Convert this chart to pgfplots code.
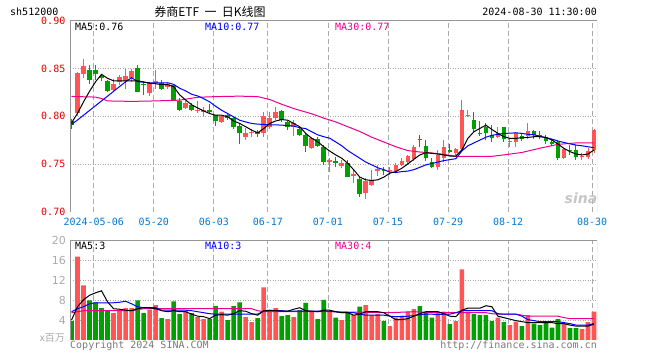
\documentclass[border=0pt]{standalone}
\usepackage{fontspec}
\usepackage{pgfplots}
\usepackage{pgfplotstable}
\pgfplotsset{compat=1.18}
\setmainfont{DejaVu Sans Mono}
\newfontfamily\cjk{Noto Sans CJK SC}
\newfontfamily\dvs{DejaVu Sans}
\definecolor{upred}{RGB}{255,85,85}
\definecolor{dngreen}{RGB}{0,160,0}
\definecolor{pricered}{RGB}{230,0,0}
\definecolor{datablue}{RGB}{0,120,215}
\definecolor{gridgray}{RGB}{170,170,170}
\definecolor{bordgray}{RGB}{150,150,150}
\definecolor{txtgray}{RGB}{120,120,120}
\newcommand\mf{\fontsize{10bp}{12bp}\selectfont}

\pgfplotstableread{
i o h l c v
1 .803 .846 .800 .845 16.8
2 .844 .860 .840 .853 11.0
7 .8276 .839 .8265 .8334 5.4
8 .8355 .843 .833 .8407 5.9
9 .837 .849 .829 .8424 6.4
10 .8397 .849 .836 .8472 6.4
13 .824 .836 .8207 .8345 6.1
14 .8345 .848 .829 .837 7.0
16 .831 .836 .829 .8334 4.2
19 .8086 .8155 .8079 .8138 5.8
21 .8059 .8155 .8034 .8069 4.6
22 .8045 .810 .800 .806 4.2
25 .7941 .8007 .7924 .8007 5.7
29 .7785 .7872 .775 .7826 4.6
30 .7820 .7861 .7785 .7830 3.6
32 .782 .8045 .7785 .800 10.6
33 .7889 .8045 .787 .7976 5.9
34 .7976 .8097 .7965 .8045 6.4
37 .7889 .7958 .7792 .793 4.6
40 .7664 .7785 .7654 .7774 5.8
43 .7525 .756 .742 .7542 5.8
45 .7479 .7542 .7455 .7514 4.0
47 .7378 .7438 .730 .7390 5.0
49 .7201 .735 .7132 .7326 7.0
50 .7282 .7438 .7271 .7333 5.0
51 .7431 .749 .7375 .7445 5.2
53 .743 .7472 .7386 .7441 2.8
54 .743 .7514 .7415 .749 4.5
55 .749 .7559 .748 .7535 4.9
56 .7525 .7594 .7503 .7584 5.7
57 .7549 .7698 .7535 .768 6.2
61 .7466 .7646 .7438 .7594 5.7
62 .7559 .775 .752 .768 5.7
64 .7618 .7664 .7594 .7653 3.8
65 .7653 .8174 .763 .8062 14.2
66 .8000 .8062 .7993 .8012 5.7
71 .7785 .7882 .7768 .7826 4.5
73 .7729 .7768 .7681 .7739 3.0
74 .7733 .7837 .7681 .782 3.7
76 .7792 .7924 .7764 .7844 5.0
82 .7563 .7667 .7556 .7653 3.2
85 .7573 .761 .7542 .7583 2.2
86 .7576 .7664 .7556 .7636 3.6
87 .7646 .7868 .7618 .7854 5.7
}\up

\pgfplotstableread{
i o h l c v
0 .795 .797 .787 .791 3.8
3 .848 .854 .834 .838 8.0
4 .848 .854 .838 .844 7.6
5 .842 .844 .837 .840 6.4
6 .837 .838 .825 .8265 5.9
11 .8507 .854 .825 .8258 8.0
12 .834 .8355 .8224 .833 5.4
15 .8345 .838 .8276 .829 4.4
17 .8327 .834 .8170 .8172 7.8
18 .8162 .819 .805 .8069 5.2
20 .812 .8138 .805 .806 5.4
23 .807 .8125 .8035 .8045 4.2
24 .801 .801 .7896 .795 6.8
26 .801 .802 .7965 .7986 4.0
27 .7986 .7993 .787 .7882 6.8
28 .7896 .7924 .7708 .782 7.6
31 .7830 .7860 .7785 .7818 4.4
35 .8055 .8062 .794 .7958 4.8
36 .794 .795 .7851 .7889 5.0
38 .7861 .789 .7795 .7802 6.0
39 .7802 .782 .7629 .7688 7.5
41 .7757 .7785 .7680 .7688 4.2
42 .768 .7698 .749 .7525 8.1
44 .7535 .7576 .747 .7508 4.5
46 .7514 .7542 .736 .7368 5.5
48 .734 .736 .7153 .7187 6.7
52 .7441 .7468 .7386 .7430 3.8
58 .7757 .7802 .768 .7747 6.8
59 .7688 .7747 .7535 .7559 5.5
60 .7525 .7559 .7455 .7466 4.5
63 .7642 .7705 .7618 .7628 3.2
67 .7965 .804 .7826 .7861 5.2
68 .7823 .7945 .7792 .7813 5.0
69 .7882 .7924 .7747 .782 5.0
70 .7802 .7907 .7733 .7768 3.8
72 .7882 .7889 .7733 .7757 3.6
75 .7792 .7813 .7744 .7757 2.8
77 .7844 .7854 .7764 .7799 3.3
78 .7802 .7847 .7764 .7785 3.0
79 .7785 .7802 .7705 .7743 3.8
80 .7729 .7757 .7688 .7705 2.5
81 .7733 .775 .7542 .7559 4.2
83 .7646 .7698 .7594 .7636 2.4
84 .7646 .7698 .7542 .7576 2.4
}\down

\pgfplotstableread{
i m5 m10
0 .793 .7914
1 .803 .796
2 .815 .801
3 .826 .806
4 .836 .811
5 .8438 .816
6 .8397 .821
7 .837 .826
8 .837 .831
9 .837 .836
10 .837 .8403
11 .837 .8362
12 .836 .8355
13 .8345 .835
14 .834 .835
15 .833 .835
16 .833 .835
17 .831 .8334
18 .8224 .8293
19 .817 .8265
20 .812 .823
21 .8086 .8212
22 .8055 .8184
23 .8028 .815
24 .801 .8104
25 .801 .8062
26 .7993 .8028
27 .795 .7993
28 .7924 .7958
29 .789 .794
30 .7854 .7924
31 .7826 .7917
32 .787 .7913
33 .7924 .791
34 .795 .791
35 .7965 .7906
36 .7958 .7903
37 .7924 .7896
38 .789 .788
39 .782 .787
40 .7768 .7837
41 .7733 .7805
42 .768 .7785
43 .7635 .777
44 .7594 .773
45 .756 .769
46 .7507 .764
47 .7438 .760
48 .7362 .756
49 .7334 .752
50 .7327 .749
51 .7334 .746
52 .7362 .744
53 .7403 .7415
54 .742 .741
55 .7455 .742
56 .750 .7425
57 .7549 .744
58 .7594 .7465
59 .7618 .749
60 .7611 .7505
61 .7604 .752
62 .7594 .7535
63 .7583 .7545
64 .7583 .7555
65 .7646 .7636
66 .7768 .769
67 .7837 .772
68 .7872 .775
69 .7906 .778
70 .7861 .780
71 .782 .781
72 .7785 .782
73 .7768 .7822
74 .7768 .7826
75 .7775 .782
76 .7778 .781
77 .7785 .7805
78 .7785 .779
79 .7778 .7775
80 .775 .776
81 .7708 .774
82 .7663 .7725
83 .7629 .771
84 .7604 .7698
85 .7594 .769
86 .7604 .768
87 .7646 .767
}\pma

\pgfplotstableread{
i m30
0 .8207
4 .820
5 .8185
6 .816
10 .8155
14 .816
18 .8168
21 .8198
24 .8205
28 .821
31 .8205
33 .8175
35 .8125
37 .808
40 .8025
42 .798
44 .794
46 .789
48 .784
50 .778
52 .773
54 .768
56 .764
58 .7625
60 .7615
62 .760
64 .758
66 .758
70 .758
72 .7595
75 .762
78 .7665
81 .7705
84 .772
87 .772
}\pmaL

\pgfplotstableread{
i m5 m10
0 4.0 5.7
1 6.7 6.3
2 8.1 6.7
3 9.0 7.3
4 9.5 7.5
5 9.9 7.5
6 7.7 7.5
7 6.3 7.5
8 6.2 7.6
9 6.0 7.8
10 5.9 7.3
11 6.3 6.7
12 6.5 6.5
13 6.5 6.5
14 6.3 6.5
15 5.9 6.0
16 5.7 6.0
17 5.9 6.0
18 5.7 6.0
19 5.7 6.0
20 5.2 5.9
21 4.8 5.7
22 4.7 5.5
23 4.3 5.3
24 5.0 5.2
25 5.1 5.2
26 5.0 5.2
27 5.3 5.2
28 5.9 5.2
29 5.8 5.2
30 5.3 5.2
31 5.0 5.2
32 5.9 5.8
33 6.0 5.9
34 5.9 5.9
35 5.8 5.9
36 5.8 5.8
37 6.2 5.8
38 6.5 5.8
39 5.9 5.8
40 5.8 5.8
41 5.7 5.8
42 6.0 5.8
43 6.0 5.8
44 5.7 5.7
45 5.5 5.5
46 5.5 5.5
47 5.0 5.5
48 5.2 5.2
49 5.7 5.0
50 5.7 5.0
51 5.7 5.0
52 5.5 5.0
53 4.8 4.8
54 4.1 4.7
55 4.1 4.7
56 4.3 4.8
57 4.8 4.9
58 5.3 5.1
59 5.7 5.2
60 5.7 5.2
61 5.7 5.1
62 5.3 5.2
63 4.8 5.2
64 4.7 5.5
65 6.0 5.9
66 6.4 5.9
67 6.4 5.9
68 6.4 5.9
69 6.9 5.9
70 6.7 5.9
71 4.8 5.3
72 4.5 5.2
73 4.2 5.2
74 3.9 5.2
75 3.7 4.8
76 3.5 4.1
77 3.5 3.9
78 3.5 3.7
79 3.5 3.7
80 3.5 3.7
81 3.3 3.7
82 3.3 3.5
83 3.0 3.3
84 2.8 3.0
85 2.8 3.0
86 2.8 3.0
87 3.2 3.3
}\vma

\pgfplotstableread{
i m30
0 5.5
2 5.9
10 5.9
11 6.1
12 6.3
30 6.3
31 5.9
32 5.7
43 5.7
53 5.5
57 5.7
60 5.5
69 5.5
70 5.3
71 5.2
74 5.2
75 5.0
76 4.8
81 4.8
82 4.5
83 4.3
87 4.3
}\vmaL

\pgfplotsset{
  kline/.style={
    scale only axis, anchor=south west, width=527bp,
    xmin=-0.25, xmax=87.5,
    axis line style={draw=none},
    major tick length=0pt,
    xtick={3.7,13.7,23.7,32.7,42.7,52.7,62.7,72.7,86.7},
    xmajorgrids, ymajorgrids,
    x grid style={gridgray, line width=0.8bp, dash pattern=on 5bp off 3bp},
    y grid style={gridgray, line width=0.8bp, dash pattern=on 1bp off 1.5bp},
  },
  wick/.style={draw=none, mark=none, mark size=0pt, forget plot,
    error bars/.cd, y dir=plus, y explicit, error mark=none,
    error bar style={line width=1bp, draw=#1, solid}},
  body/.style={draw=none, mark=none, mark size=0pt, forget plot,
    error bars/.cd, y dir=plus, y explicit, error mark=none,
    error bar style={line width=4.6bp, draw=#1, solid}},
}

\begin{document}
\begin{tikzpicture}
\useasboundingbox (0,0) rectangle (660bp,360bp);

% ---------- price panel ----------
\begin{axis}[kline,
  at={(70bp,148.3bp)}, height=191bp,
  ymin=0.70, ymax=0.90,
  ytick={0.75,0.80,0.85,0.90},
  yticklabels={0.75,0.80,0.85,0.90},
  extra y ticks={0.70}, extra y tick labels={0.70},
  extra y tick style={grid=none},
  yticklabel style={font=\mf, text=pricered, inner sep=0pt, xshift=-4.5bp},
  xticklabels={2024-05-06,05-20,06-03,06-17,07-01,07-15,07-29,08-12,08-30},
  xticklabel style={font=\mf, text=datablue, inner sep=0pt, yshift=-6bp},
]
\addplot[wick=upred] table[x=i, y=l, y error expr=\thisrow{h}-\thisrow{l}] {\up};
\addplot[wick=dngreen] table[x=i, y=l, y error expr=\thisrow{h}-\thisrow{l}] {\down};
\addplot[body=upred] table[x=i, y=o, y error expr=\thisrow{c}-\thisrow{o}] {\up};
\addplot[body=dngreen] table[x=i, y=c, y error expr=\thisrow{o}-\thisrow{c}] {\down};
\addplot[magenta, line width=1bp, mark=none] table[x=i, y=m30] {\pmaL};
\addplot[blue, line width=1bp, mark=none] table[x=i, y=m10] {\pma};
\addplot[black, line width=1bp, mark=none] table[x=i, y=m5] {\pma};
\draw[bordgray, line width=1bp] (rel axis cs:0,0) -- (rel axis cs:0,1) -- (rel axis cs:1,1) -- (rel axis cs:1,0);
\end{axis}

% ---------- volume panel ----------
\begin{axis}[kline,
  at={(70bp,20bp)}, height=99.3bp,
  ymin=0, ymax=20,
  ytick={4,8,12,16,20},
  yticklabels={4,8,12,16,20},
  yticklabel style={font=\dvs\fontsize{11bp}{12bp}\selectfont, text=gridgray, inner sep=0pt, xshift=-4bp},
  xticklabel=\empty,
]
\addplot[ybar, bar width=4.6bp, bar shift=0pt, fill=upred, draw=none, forget plot] table[x=i, y=v] {\up};
\addplot[ybar, bar width=4.6bp, bar shift=0pt, fill=dngreen, draw=none, forget plot] table[x=i, y=v] {\down};
\addplot[magenta, line width=1bp, mark=none] table[x=i, y=m30] {\vmaL};
\addplot[blue, line width=1bp, mark=none] table[x=i, y=m10] {\vma};
\addplot[black, line width=1bp, mark=none] table[x=i, y=m5] {\vma};
\draw[bordgray, line width=1bp] (rel axis cs:0,0) -- (rel axis cs:0,1) -- (rel axis cs:1,1) -- (rel axis cs:1,0);
\end{axis}

% ---------- texts ----------
\node[anchor=west, inner sep=0pt, font=\mf] at (10bp,348bp) {sh512000};
\node[inner sep=0pt, font=\cjk\fontsize{12bp}{14bp}\selectfont] at (210bp,348bp) {券商ETF\ \ 一\ \ 日K线图};
\node[anchor=east, inner sep=0pt, font=\mf] at (597bp,348bp) {2024-08-30 11:30:00};
\node[anchor=west, inner sep=0pt, font=\mf] at (75bp,333bp) {MA5:0.76};
\node[anchor=west, inner sep=0pt, font=\mf, text=blue] at (205bp,333bp) {MA10:0.77};
\node[anchor=west, inner sep=0pt, font=\mf, text=magenta] at (335bp,333bp) {MA30:0.77};
\node[anchor=west, inner sep=0pt, font=\mf] at (75bp,114bp) {MA5:3};
\node[anchor=west, inner sep=0pt, font=\mf, text=blue] at (205bp,114bp) {MA10:3};
\node[anchor=west, inner sep=0pt, font=\mf, text=magenta] at (335bp,114bp) {MA30:4};
\node[anchor=west, inner sep=0pt, font=\mf, text=txtgray] at (70bp,14bp) {Copyright 2024 SINA.COM};
\node[anchor=east, inner sep=0pt, font=\mf, text=txtgray] at (597bp,14bp) {http://finance.sina.com.cn};
\node[anchor=east, inner sep=0pt, font=\cjk\fontsize{10bp}{12bp}\selectfont, text=gridgray] at (65bp,22bp) {x百万};
\node[inner sep=0pt, font=\dvs\bfseries\itshape\fontsize{14bp}{16bp}\selectfont, text=gray!45] at (581bp,162bp) {sina};
\end{tikzpicture}
\end{document}
